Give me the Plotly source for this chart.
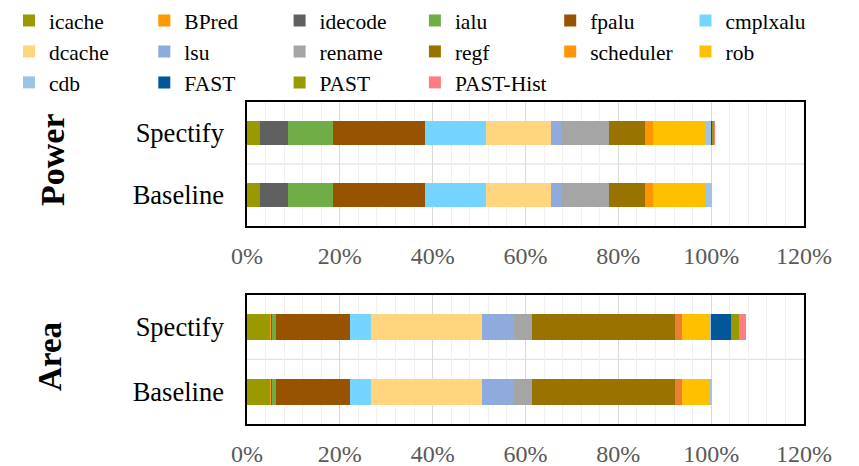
import plotly.graph_objects as go

components = ["icache", "BPred", "idecode", "ialu", "fpalu", "cmplxalu", "dcache", "lsu",
              "rename", "regf", "scheduler", "rob", "cdb", "FAST", "PAST", "PAST-Hist"]
categories = ["Baseline", "Spectify"]

# Power breakdown (%) : [Baseline, Spectify]
power_icache = [2.8, 2.8]
power_bpred = [0.1, 0.1]
power_idecode = [5.9, 5.9]
power_ialu = [9.8, 9.8]
power_fpalu = [19.8, 19.8]
power_cmplxalu = [13.1, 13.1]
power_dcache = [14.1, 14.1]
power_lsu = [2.1, 2.1]
power_rename = [10.2, 10.2]
power_regf = [7.8, 7.8]
power_scheduler = [1.7, 1.7]
power_rob = [11.4, 11.4]
power_cdb = [1.3, 1.3]
power_fast = [0.0, 0.2]
power_past = [0.0, 0.4]
power_pasthist = [0.0, 0.1]

# Area breakdown (%) : [Baseline, Spectify]
area_icache = [5.0, 5.0]
area_bpred = [0.3, 0.3]
area_idecode = [0.1, 0.1]
area_ialu = [0.9, 0.9]
area_fpalu = [15.9, 15.9]
area_cmplxalu = [4.5, 4.5]
area_dcache = [24.0, 24.0]
area_lsu = [6.9, 6.9]
area_rename = [3.9, 3.9]
area_regf = [30.6, 30.6]
area_scheduler = [1.7, 1.7]
area_rob = [6.1, 6.1]
area_cdb = [0.1, 0.1]
area_fast = [0.0, 4.2]
area_past = [0.0, 1.9]
area_pasthist = [0.0, 1.3]

power_values = [power_icache, power_bpred, power_idecode, power_ialu, power_fpalu, power_cmplxalu,
                power_dcache, power_lsu, power_rename, power_regf, power_scheduler, power_rob,
                power_cdb, power_fast, power_past, power_pasthist]
area_values = [area_icache, area_bpred, area_idecode, area_ialu, area_fpalu, area_cmplxalu,
               area_dcache, area_lsu, area_rename, area_regf, area_scheduler, area_rob,
               area_cdb, area_fast, area_past, area_pasthist]

x_ticks = [0, 20, 40, 60, 80, 100, 120]
x_ticklabels = ["0%", "20%", "40%", "60%", "80%", "100%", "120%"]

colors_power = ["#999900", "#FF9900", "#606060", "#70AD47", "#985300", "#75D5FF", "#FFD57E", "#8FAADC",
                "#A5A5A5", "#997300", "#FF9500", "#FFC000", "#9DC3E6", "#02569A", "#999900", "#FF7C80"]
colors_area = list(colors_power)
colors_area[10] = "#ED7D31"

FONT = "Liberation Serif"
N_LEGEND_COLS = 6

W, H = 859, 466
ml, mr, mt, mb = 247, 55, 102, 42
pw = W - ml - mr
ph = H - mt - mb

def py(px):
    return (H - mb - px) / ph

def pxx(px):
    return (px - ml) / pw

def legend_name(i):
    k = i % N_LEGEND_COLS
    return "legend" if k == 0 else f"legend{k + 1}"

fig = go.Figure()
ypos = list(range(len(categories)))

for i, name in enumerate(components):
    fig.add_trace(go.Bar(y=ypos, x=power_values[i], name=name, orientation="h",
                         marker=dict(color=colors_power[i], line=dict(width=0)),
                         legend=legend_name(i), showlegend=True, xaxis="x", yaxis="y"))
for i, name in enumerate(components):
    fig.add_trace(go.Bar(y=ypos, x=area_values[i], name=name, orientation="h",
                         marker=dict(color=colors_area[i], line=dict(width=0)),
                         showlegend=False, xaxis="x2", yaxis="y2"))

def xaxis_cfg(anchor):
    return dict(anchor=anchor, domain=[0, 1], range=[0, 120], tickmode="array",
                tickvals=x_ticks, ticktext=x_ticklabels,
                showgrid=True, gridcolor="#D9D9D9", gridwidth=1,
                minor=dict(dtick=4, showgrid=True, gridcolor="#F0F0F0", gridwidth=1),
                showline=True, linecolor="black", linewidth=1.5, mirror=True,
                tickfont=dict(family=FONT, size=24, color="#595959"),
                ticks="outside", ticklen=7, tickcolor="rgba(0,0,0,0)", zeroline=False)

def yaxis_cfg(anchor, domain):
    return dict(anchor=anchor, domain=domain, range=[-0.5, 1.5], tickmode="array",
                tickvals=ypos, ticktext=categories, showgrid=False, zeroline=False,
                showline=True, linecolor="black", linewidth=1.5, mirror=True,
                tickfont=dict(family=FONT, size=26.5, color="black"),
                ticks="outside", ticklen=16, tickcolor="rgba(0,0,0,0)")

legends = {}
for k in range(N_LEGEND_COLS):
    key = "legend" if k == 0 else f"legend{k + 1}"
    legends[key] = dict(orientation="v", xref="paper", yref="paper",
                        x=pxx(9 + 135.3 * k), y=py(0), xanchor="left", yanchor="top",
                        traceorder="normal", tracegroupgap=0, bgcolor="rgba(0,0,0,0)",
                        font=dict(family=FONT, size=21.5, color="black"))

fig.update_layout(
    width=W, height=H,
    margin=dict(l=ml, r=mr, t=mt, b=mb, pad=0, autoexpand=False),
    barmode="stack", bargap=0.6,
    plot_bgcolor="white", paper_bgcolor="white",
    font=dict(family=FONT, color="black", size=21),
    xaxis=xaxis_cfg("y"),
    yaxis=yaxis_cfg("x", [py(226), 1.0]),
    xaxis2=xaxis_cfg("y2"),
    yaxis2=yaxis_cfg("x2", [0.0, py(294.5)]),
    showlegend=True,
    **legends,
)

# separator lines between the two categories (Excel-style horizontal gridline)
for ax in ["", "2"]:
    fig.add_shape(type="line", xref=f"x{ax} domain", yref=f"y{ax}", x0=0, x1=1, y0=0.5, y1=0.5,
                  line=dict(color="#D9D9D9", width=1), layer="below")

fig.add_annotation(text="<b>Power</b>", textangle=-90, x=pxx(52), y=py(160),
                   xref="paper", yref="paper", showarrow=False, xanchor="center", yanchor="middle",
                   font=dict(family=FONT, size=34, color="black"))
fig.add_annotation(text="<b>Area</b>", textangle=-90, x=pxx(50), y=py(357),
                   xref="paper", yref="paper", showarrow=False, xanchor="center", yanchor="middle",
                   font=dict(family=FONT, size=33, color="black"))

fig.write_html("out.html", config={"displayModeBar": False},
               post_script="document.body.style.margin='0px';")
